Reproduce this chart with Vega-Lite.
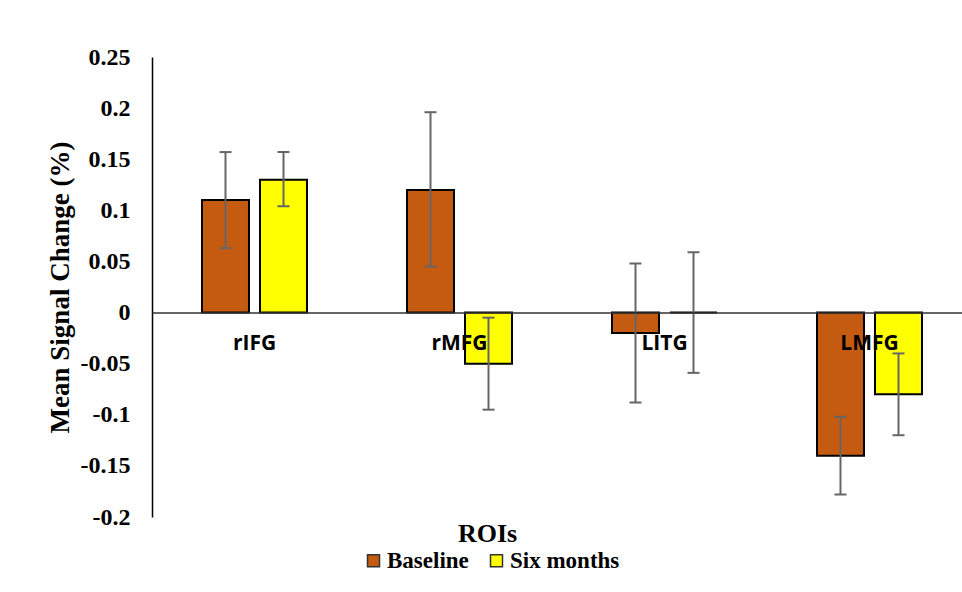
{
  "$schema": "https://vega.github.io/schema/vega-lite/v6.json",
  "width": 820,
  "height": 460,
  "autosize": {"type": "none"},
  "padding": {"left": 152, "top": 57, "right": 0, "bottom": 75},
  "background": "white",
  "config": {"view": {"stroke": null}},
  "data": {
    "values": [
      {"roi": "rIFG", "period": "Baseline", "mean": 0.11, "lo": 0.063, "hi": 0.157},
      {"roi": "rIFG", "period": "Six months", "mean": 0.13, "lo": 0.104, "hi": 0.157},
      {"roi": "rMFG", "period": "Baseline", "mean": 0.12, "lo": 0.045, "hi": 0.196},
      {"roi": "rMFG", "period": "Six months", "mean": -0.05, "lo": -0.095, "hi": -0.005},
      {"roi": "LITG", "period": "Baseline", "mean": -0.02, "lo": -0.088, "hi": 0.048},
      {"roi": "LITG", "period": "Six months", "mean": 0, "lo": -0.059, "hi": 0.059},
      {"roi": "LMFG", "period": "Baseline", "mean": -0.14, "lo": -0.178, "hi": -0.102},
      {"roi": "LMFG", "period": "Six months", "mean": -0.08, "lo": -0.12, "hi": -0.04}
    ]
  },
  "encoding": {
    "x": {
      "field": "roi",
      "type": "nominal",
      "sort": ["rIFG", "rMFG", "LITG", "LMFG"],
      "scale": {"paddingInner": 0, "paddingOuter": 0},
      "axis": {
        "orient": "bottom",
        "offset": -204.5,
        "zindex": 1,
        "domain": true,
        "domainColor": "#333333",
        "domainWidth": 1.5,
        "ticks": false,
        "grid": false,
        "labelAngle": 0,
        "labelFont": "Open Sans",
        "labelFontWeight": "bold",
        "labelFontSize": 21,
        "labelColor": "black",
        "labelBaseline": "middle",
        "labelPadding": 31,
        "title": "ROIs",
        "titleFont": "Liberation Serif",
        "titleFontWeight": "bold",
        "titleFontSize": 26,
        "titleColor": "black",
        "titleX": 335,
        "titleY": 221,
        "titleBaseline": "middle"
      }
    },
    "xOffset": {
      "field": "period",
      "type": "nominal",
      "sort": ["Baseline", "Six months"],
      "scale": {"paddingInner": 0.19, "paddingOuter": 0.862}
    }
  },
  "layer": [
    {
      "mark": {"type": "bar", "stroke": "black", "strokeWidth": 2},
      "encoding": {
        "y": {
          "field": "mean",
          "type": "quantitative",
          "scale": {"domain": [-0.2, 0.25], "nice": false, "zero": true},
          "axis": {
            "values": [-0.2, -0.15, -0.1, -0.05, 0, 0.05, 0.1, 0.15, 0.2, 0.25],
            "labelExpr": "toString(datum.value)",
            "domain": true,
            "domainColor": "black",
            "domainWidth": 1.5,
            "ticks": false,
            "grid": false,
            "labelFont": "Liberation Serif",
            "labelFontWeight": "bold",
            "labelFontSize": 24,
            "labelColor": "black",
            "labelPadding": 22,
            "title": "Mean Signal Change (%)",
            "titleFont": "Liberation Serif",
            "titleFontWeight": "bold",
            "titleFontSize": 27,
            "titleColor": "black",
            "titlePadding": 6
          }
        },
        "color": {
          "field": "period",
          "type": "nominal",
          "scale": {"domain": ["Baseline", "Six months"], "range": ["#C55A11", "#FFFF00"]},
          "legend": {
            "orient": "none",
            "direction": "horizontal",
            "legendX": 210,
            "legendY": 492,
            "title": null,
            "padding": 0,
            "labelFont": "Liberation Serif",
            "labelFontWeight": "bold",
            "labelFontSize": 23,
            "labelColor": "black",
            "labelOffset": 2,
            "columnPadding": 16,
            "symbolType": "square",
            "symbolSize": 144,
            "symbolStrokeColor": "#333333",
            "symbolStrokeWidth": 1.5,
            "symbolOpacity": 1
          }
        }
      }
    },
    {
      "mark": {"type": "rule", "color": "#666666", "strokeWidth": 2},
      "encoding": {
        "y": {"field": "lo", "type": "quantitative"},
        "y2": {"field": "hi"}
      }
    },
    {
      "mark": {"type": "tick", "color": "#666666", "thickness": 2, "size": 12, "opacity": 1},
      "encoding": {
        "y": {"field": "lo", "type": "quantitative"}
      }
    },
    {
      "mark": {"type": "tick", "color": "#666666", "thickness": 2, "size": 12, "opacity": 1},
      "encoding": {
        "y": {"field": "hi", "type": "quantitative"}
      }
    }
  ]
}
